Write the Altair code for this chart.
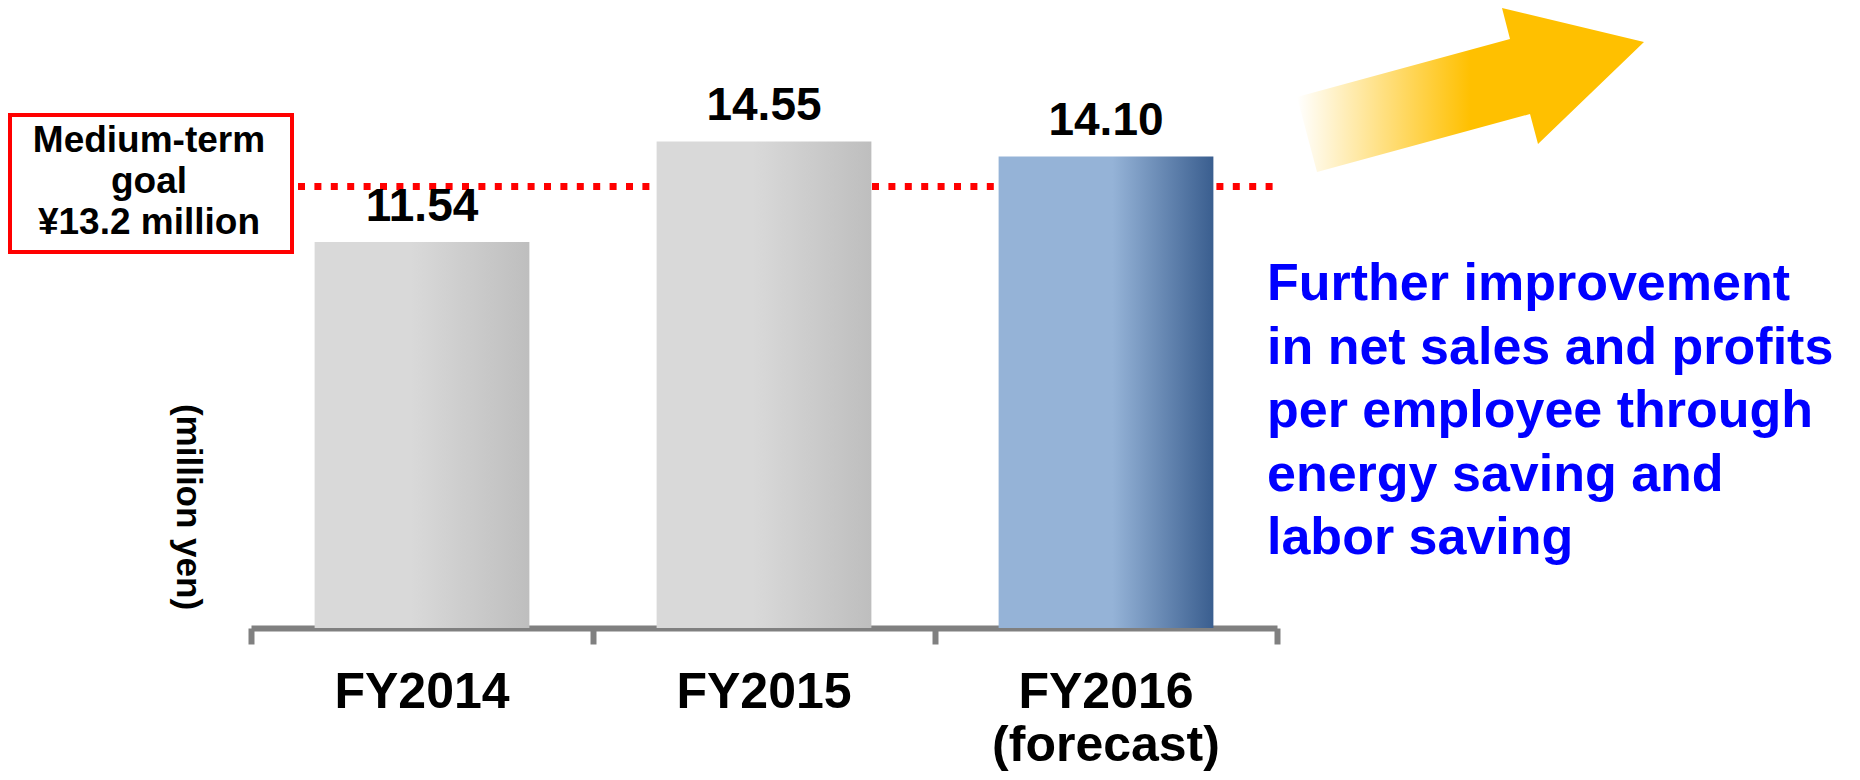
import altair as alt
import pandas as pd

# ---- data ----
categories = ["FY2014", "FY2015", "FY2016"]
category_labels = ["FY2014", "FY2015", "FY2016\n(forecast)"]
values = [11.54, 14.55, 14.10]
kinds = ["actual", "actual", "forecast"]
goal_value = 13.2
goal_text = "Medium-term\ngoal\n¥13.2 million"
unit_text = "(million yen)"
note_text = ("Further improvement\nin net sales and profits\nper employee through\n"
             "energy saving and\nlabor saving")

FONT = "Liberation Sans, Arial, Helvetica, sans-serif"
W, H = 1026, 602
Y_MAX = 18

df = pd.DataFrame({"cat": categories, "label": category_labels,
                   "value": values, "kind": kinds})

x_enc = alt.X("cat:N", sort=categories,
              scale=alt.Scale(paddingInner=0, paddingOuter=0),
              axis=alt.Axis(labels=False, title=None, domainColor="#808080",
                            domainWidth=6, tickColor="#808080", tickWidth=6,
                            tickSize=16, tickBand="extent", grid=False))
y_enc = alt.Y("value:Q", scale=alt.Scale(domain=[0, Y_MAX]), axis=None)

gray_grad = {"gradient": "linear", "x1": 0, "y1": 0, "x2": 1, "y2": 0,
             "stops": [{"offset": 0, "color": "#D9D9D9"},
                       {"offset": 0.45, "color": "#D9D9D9"},
                       {"offset": 1, "color": "#BEBEBE"}]}
blue_grad = {"gradient": "linear", "x1": 0, "y1": 0, "x2": 1, "y2": 0,
             "stops": [{"offset": 0, "color": "#95B3D7"},
                       {"offset": 0.53, "color": "#95B3D7"},
                       {"offset": 1, "color": "#3A5E8F"}]}
arrow_grad = {"gradient": "linear", "x1": 0, "y1": 0, "x2": 1, "y2": 0,
              "stops": [{"offset": 0, "color": "rgba(255,192,0,0)"},
                        {"offset": 0.5, "color": "#FFC000"},
                        {"offset": 1, "color": "#FFC000"}]}

base = alt.Chart(df)

goal_rule = alt.Chart(pd.DataFrame({"g": [goal_value]})).mark_rule(
    color="#FF0000", strokeWidth=7, strokeDash=[7, 9.4], strokeCap="butt"
).encode(x=alt.value(47), x2=alt.value(W),
         y=alt.Y("g:Q", scale=alt.Scale(domain=[0, Y_MAX]), axis=None))

bars_gray = base.transform_filter(alt.datum.kind == "actual").mark_bar(
    fill=gray_grad, width={"band": 0.628}
).encode(x=x_enc, y=y_enc)

bars_blue = base.transform_filter(alt.datum.kind == "forecast").mark_bar(
    fill=blue_grad, width={"band": 0.628}
).encode(x=x_enc, y=y_enc)

value_labels = base.mark_text(
    font=FONT, fontSize=46, fontWeight="bold", color="#000000",
    baseline="alphabetic", align="center", dy=-21
).encode(x=x_enc, y=y_enc, text=alt.Text("value:Q", format=".2f"))

cat_labels = base.mark_text(
    font=FONT, fontSize=50, fontWeight="bold", color="#000000",
    baseline="alphabetic", align="center", lineBreak="\n", lineHeight=53
).encode(x=x_enc, y=alt.value(H + 80), text="label:N")

one = pd.DataFrame({"k": [1]})

goal_box = alt.Chart(one).mark_rect(
    fill="#FFFFFF", stroke="#FF0000", strokeWidth=4
).encode(x=alt.value(-241), x2=alt.value(41), y=alt.value(89), y2=alt.value(226))

goal_label = alt.Chart(pd.DataFrame({"t": [goal_text]})).mark_text(
    font=FONT, fontSize=37, fontWeight="bold", color="#000000",
    align="center", baseline="alphabetic", lineBreak="\n", lineHeight=41
).encode(x=alt.value(-102), y=alt.value(126), text="t:N")

unit_label = alt.Chart(pd.DataFrame({"t": [unit_text]})).mark_text(
    font=FONT, fontSize=35, fontWeight="bold", color="#000000",
    align="center", baseline="middle", angle=90
).encode(x=alt.value(-63), y=alt.value(481), text="t:N")

note_label = alt.Chart(pd.DataFrame({"t": [note_text]})).mark_text(
    font=FONT, fontSize=52, fontWeight="bold", color="#0000FF",
    align="left", baseline="alphabetic", lineBreak="\n", lineHeight=63.5
).encode(x=alt.value(1016), y=alt.value(274), text="t:N")

ARROW_PATH = ("M -0.865 0.035 L 0.2 -0.255 L 0.16 -0.41 L 0.87 -0.24 "
              "L 0.34 0.27 L 0.3 0.12 L -0.765 0.41 Z")
arrow = alt.Chart(one).mark_point(
    shape=ARROW_PATH, size=160000, filled=True, opacity=1, strokeWidth=0,
    fill=arrow_grad
).encode(x=alt.value(1219), y=alt.value(64))

chart = alt.layer(
    goal_rule, bars_gray, bars_blue, value_labels, cat_labels,
    goal_box, goal_label, unit_label, note_label, arrow
).properties(
    width=W, height=H,
    padding={"left": 243, "top": 18, "right": 575, "bottom": 144},
    autosize=alt.AutoSizeParams(type="none"),
    background="#FFFFFF"
).configure_view(stroke=None)

chart.save("out.html", embed_options={"renderer": "svg", "actions": False})
